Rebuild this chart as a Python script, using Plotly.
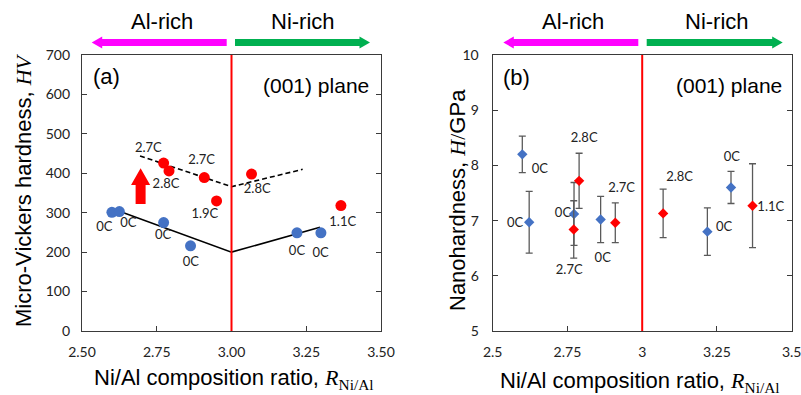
import plotly.graph_objects as go

# ---------------- data: panel (a) Micro-Vickers hardness ----------------
a_blue_x = [2.600, 2.625, 2.773, 2.863, 3.219, 3.299]
a_blue_y = [301, 303, 275, 216, 249, 249]
a_blue_lbl = ["0C", "0C", "0C", "0C", "0C", "0C"]
a_blue_lbl_x = [2.575, 2.655, 2.771, 2.864, 3.219, 3.298]
a_blue_lbl_y = [263, 273, 241, 173, 200, 197]

a_red_x = [2.773, 2.791, 2.909, 2.950, 3.067, 3.366]
a_red_y = [426, 406, 389, 330, 398, 318]
a_red_lbl = ["2.7C", "2.8C", "2.7C", "1.9C", "2.8C", "1.1C"]
a_red_lbl_x = [2.722, 2.781, 2.900, 2.911, 3.086, 3.372]
a_red_lbl_y = [462, 370, 432, 296, 358, 275]

a_trend_solid_x = [2.600, 3.000, 3.296]
a_trend_solid_y = [311, 200, 263]
a_trend_dash_x = [2.694, 3.000, 3.238]
a_trend_dash_y = [444, 366, 410]

# ---------------- data: panel (b) Nanohardness ----------------
b_blue_x = [2.599, 2.622, 2.772, 2.861, 3.218, 3.297]
b_blue_y = [8.20, 6.97, 7.12, 7.02, 6.80, 7.60]
b_blue_err = [0.33, 0.56, 0.57, 0.42, 0.43, 0.29]
b_blue_lbl = ["0C", "0C", "0C", "0C", "0C", "0C"]
b_blue_lbl_x = [2.658, 2.575, 2.735, 2.868, 3.274, 3.300]
b_blue_lbl_y = [7.93, 6.95, 7.12, 6.30, 6.87, 8.13]

b_red_x = [2.771, 2.789, 2.910, 3.070, 3.369]
b_red_y = [6.84, 7.72, 6.96, 7.13, 7.27]
b_red_err = [0.52, 0.50, 0.36, 0.44, 0.76]
b_red_lbl = ["2.7C", "2.8C", "2.7C", "2.8C", "1.1C"]
b_red_lbl_x = [2.756, 2.806, 2.931, 3.125, 3.430]
b_red_lbl_y = [6.09, 8.48, 7.57, 7.78, 7.24]

a_xticks = [2.50, 2.75, 3.00, 3.25, 3.50]
a_xticklabels = ["2.50", "2.75", "3.00", "3.25", "3.50"]
b_xticks = [2.5, 2.75, 3.0, 3.25, 3.5]
b_xticklabels = ["2.5", "2.75", "3", "3.25", "3.5"]
boundary_ratio = 3.0

# ---------------- style ----------------
W, H = 801, 395
BLUE = "#4472C4"
RED = "#FF0000"
MAGENTA = "#FF00FF"
GREEN = "#00B050"
AXC = "#3a3a3a"
SANS = "Liberation Sans, Arial, sans-serif"
TICKF = "Lato, Carlito, sans-serif"
SERIF = "Liberation Serif, Times New Roman, serif"


def px(x):
    return x / W


def py(y):
    return 1 - y / H


fig = go.Figure()

# panel (a)
fig.add_trace(go.Scatter(x=a_trend_solid_x, y=a_trend_solid_y, mode="lines",
                         line=dict(color="black", width=1.6), xaxis="x", yaxis="y",
                         showlegend=False, hoverinfo="skip"))
fig.add_trace(go.Scatter(x=a_trend_dash_x, y=a_trend_dash_y, mode="lines",
                         line=dict(color="black", width=1.6, dash="5px,3px"), xaxis="x", yaxis="y",
                         showlegend=False, hoverinfo="skip"))
fig.add_trace(go.Scatter(x=a_blue_x, y=a_blue_y, mode="markers",
                         marker=dict(color=BLUE, size=11), xaxis="x", yaxis="y", showlegend=False))
fig.add_trace(go.Scatter(x=a_red_x, y=a_red_y, mode="markers",
                         marker=dict(color=RED, size=11), xaxis="x", yaxis="y", showlegend=False))
fig.add_trace(go.Scatter(x=a_blue_lbl_x + a_red_lbl_x, y=a_blue_lbl_y + a_red_lbl_y,
                         text=a_blue_lbl + a_red_lbl, mode="text",
                         textfont=dict(family=TICKF, size=13, color="#222"),
                         xaxis="x", yaxis="y", showlegend=False, hoverinfo="skip"))

# panel (b)
fig.add_trace(go.Scatter(x=b_blue_x, y=b_blue_y, mode="markers",
                         error_y=dict(type="data", array=b_blue_err, color="#5a5a5a", thickness=1.3, width=3.5),
                         marker=dict(color=BLUE, size=8, symbol="diamond"),
                         xaxis="x2", yaxis="y2", showlegend=False))
fig.add_trace(go.Scatter(x=b_red_x, y=b_red_y, mode="markers",
                         error_y=dict(type="data", array=b_red_err, color="#5a5a5a", thickness=1.3, width=3.5),
                         marker=dict(color=RED, size=8, symbol="diamond"),
                         xaxis="x2", yaxis="y2", showlegend=False))
fig.add_trace(go.Scatter(x=b_blue_lbl_x + b_red_lbl_x, y=b_blue_lbl_y + b_red_lbl_y,
                         text=b_blue_lbl + b_red_lbl, mode="text",
                         textfont=dict(family=TICKF, size=13, color="#222"),
                         xaxis="x2", yaxis="y2", showlegend=False, hoverinfo="skip"))

ydom = [py(331), py(55)]
axis_common = dict(showgrid=False, zeroline=False, showline=True, linecolor=AXC, linewidth=1.3,
                   ticks="inside", ticklen=5, tickcolor=AXC, automargin=False,
                   ticklabeloverflow="allow",
                   tickfont=dict(family=TICKF, size=14, color="#222"))

fig.update_layout(
    width=W, height=H, margin=dict(l=0, r=0, t=0, b=0, autoexpand=False),
    paper_bgcolor="white", plot_bgcolor="white",
    xaxis=dict(domain=[px(82), px(381)], range=[2.5, 3.5], tickvals=a_xticks, ticktext=a_xticklabels,
               mirror=True, anchor="y", ticklabelstandoff=8, **axis_common),
    yaxis=dict(domain=ydom, range=[0, 700], dtick=100, mirror="ticks", anchor="x",
               ticklabelstandoff=8, **axis_common),
    xaxis2=dict(domain=[px(492.7), px(791.7)], range=[2.5, 3.5], tickvals=b_xticks, ticktext=b_xticklabels,
                mirror=True, anchor="y2", ticklabelstandoff=8, **axis_common),
    yaxis2=dict(domain=ydom, range=[5, 10], dtick=1, mirror="ticks", anchor="x2",
                ticklabelstandoff=10, **axis_common),
)

# red boundary lines at Ni/Al = 3
for xr in ["x", "x2"]:
    yr = "y domain" if xr == "x" else "y2 domain"
    fig.add_shape(type="line", xref=xr, yref=yr, x0=boundary_ratio, x1=boundary_ratio, y0=0, y1=1,
                  line=dict(color=RED, width=2))

# red up arrow in panel (a)
arrow_x, arrow_y0, arrow_y1, arrow_head_base = 2.696, 322, 413, 370
hw_shaft, hw_head = 0.0167, 0.032
path = (f"M {arrow_x - hw_shaft} {arrow_y0} L {arrow_x - hw_shaft} {arrow_head_base} "
        f"L {arrow_x - hw_head} {arrow_head_base} L {arrow_x} {arrow_y1} "
        f"L {arrow_x + hw_head} {arrow_head_base} L {arrow_x + hw_shaft} {arrow_head_base} "
        f"L {arrow_x + hw_shaft} {arrow_y0} Z")
fig.add_shape(type="path", xref="x", yref="y", path=path, fillcolor=RED, line=dict(width=0))


# top direction arrows (Al-rich / Ni-rich)
def harrow(x_tail, x_tip, cy=42.5, shaft=3.6, head=6.0, head_len=10.5):
    d = 1 if x_tip > x_tail else -1
    hb = x_tip - d * head_len
    pts = [(x_tip, cy), (hb, cy - head), (hb, cy - shaft), (x_tail, cy - shaft),
           (x_tail, cy + shaft), (hb, cy + shaft), (hb, cy + head)]
    s = "M " + " L ".join(f"{px(a)} {py(b)}" for a, b in pts) + " Z"
    return s


for tail, tip, col in [(226.7, 91.7, MAGENTA), (235, 370, GREEN),
                       (638.3, 503.3, MAGENTA), (646.7, 782.7, GREEN)]:
    fig.add_shape(type="path", xref="paper", yref="paper", path=harrow(tail, tip),
                  fillcolor=col, line=dict(width=0))

annots = []
for x, t in [(161.7, "Al-rich"), (303, "Ni-rich"), (573, "Al-rich"), (716.7, "Ni-rich")]:
    annots.append(dict(x=px(x), y=py(21.7), xref="paper", yref="paper", text=t, showarrow=False,
                       xanchor="center", yanchor="middle", font=dict(family=SANS, size=22, color="black")))

# panel labels
annots.append(dict(x=px(91), y=py(76), xref="paper", yref="paper", text="(a)", showarrow=False,
                   xanchor="left", yanchor="middle", font=dict(family=SANS, size=22, color="black")))
annots.append(dict(x=px(501), y=py(77), xref="paper", yref="paper", text="(b)", showarrow=False,
                   xanchor="left", yanchor="middle", font=dict(family=SANS, size=22, color="black")))
annots.append(dict(x=px(371), y=py(85), xref="paper", yref="paper", text="(001) plane", showarrow=False,
                   xanchor="right", yanchor="middle", font=dict(family=SANS, size=21, color="black")))
annots.append(dict(x=px(784), y=py(85), xref="paper", yref="paper", text="(001) plane", showarrow=False,
                   xanchor="right", yanchor="middle", font=dict(family=SANS, size=21, color="black")))

# axis titles
xt = ('Ni/Al composition ratio, <span style="font-family:' + SERIF + '"><i>R</i>'
      '<sub>Ni/Al</sub></span>')
annots.append(dict(x=px(234), y=py(379), xref="paper", yref="paper", text=xt, showarrow=False,
                   xanchor="center", yanchor="middle", font=dict(family=SANS, size=22, color="black")))
annots.append(dict(x=px(498), y=py(382), xref="paper", yref="paper", text=xt, showarrow=False,
                   xanchor="left", yanchor="middle", font=dict(family=SANS, size=22, color="black")))
annots.append(dict(x=px(23), y=py(190), xref="paper", yref="paper",
                   text='Micro-Vickers hardness, <span style="font-family:' + SERIF + '"><i>HV</i></span>',
                   showarrow=False, textangle=-90, xanchor="center", yanchor="middle",
                   font=dict(family=SANS, size=22, color="black")))
annots.append(dict(x=px(457), y=py(200), xref="paper", yref="paper",
                   text='Nanohardness, <span style="font-family:' + SERIF + '"><i>H</i>/</span>GPa',
                   showarrow=False, textangle=-90, xanchor="center", yanchor="middle",
                   font=dict(family=SANS, size=22, color="black")))

fig.update_layout(annotations=annots)
fig.write_html("out.html", config={"displayModeBar": False},
               post_script="document.body.style.margin='0';document.body.style.overflow='hidden';")
